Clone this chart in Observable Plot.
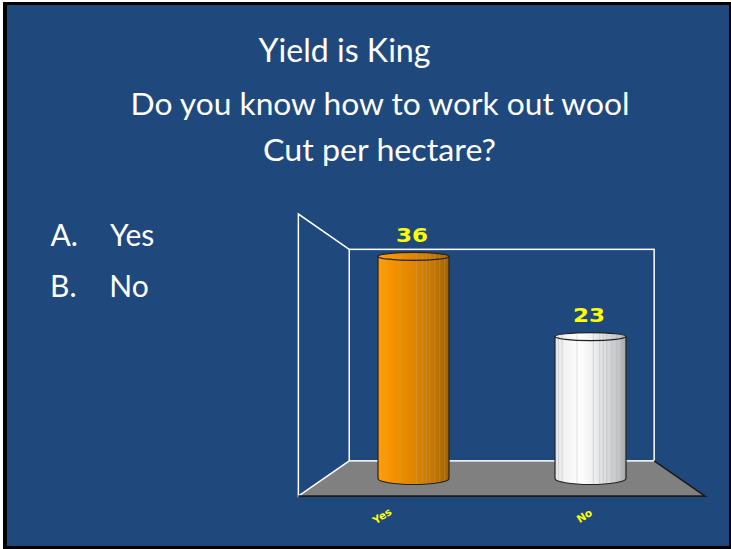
<!DOCTYPE html>
<html>
<head>
<meta charset="utf-8">
<script src="https://cdn.jsdelivr.net/npm/d3@7"></script>
<script src="https://cdn.jsdelivr.net/npm/@observablehq/plot@0.6"></script>
<style>
  html, body { margin: 0; padding: 0; background: #ffffff; width: 731px; height: 549px; overflow: hidden; }
  #slide { position: absolute; left: 3px; top: 2px; width: 722px; height: 541px; border: 3px solid #000; border-left-width: 4px; background: #1F497D; }
  #chart { position: absolute; left: 290px; top: 200px; }
  #texts { position: absolute; left: 0; top: 0; }
</style>
</head>
<body>
<div id="slide"></div>
<div id="texts"></div>
<div id="chart"></div>
<script>
// ---- data ----
const categories = ["Yes", "No"];
const counts = [36, 23];
const yDomain = [0, 40];
const titleLines = ["Yield is King", "Do you know how to work out wool", "Cut per hectare?"];
const optionLetters = ["A.", "B."];
const optionLabels = ["Yes", "No"];

const rows = categories.map((c, i) => ({answer: c, count: counts[i]}));

// ---- slide text ----
const tsvg = d3.select("#texts").append("svg").attr("width", 731).attr("height", 549)
  .style("font-family", "Lato, 'Open Sans', sans-serif").attr("fill", "#ffffff");
const titleSpecs = [
  {cx: 344.5, y: 62.3, size: 33.5, len: 172},
  {cx: 380, y: 115, size: 30.3, len: 499},
  {cx: 379.5, y: 161, size: 30.3, len: 233}
];
titleLines.forEach((t, i) => {
  const s = titleSpecs[i];
  tsvg.append("text").attr("x", s.cx).attr("y", s.y).attr("text-anchor", "middle")
    .attr("font-size", s.size).attr("textLength", s.len).attr("lengthAdjust", "spacingAndGlyphs").text(t);
});
const optY = [245.7, 296.7];
optionLetters.forEach((t, i) => {
  tsvg.append("text").attr("x", i === 0 ? 50.5 : 50).attr("y", optY[i]).attr("font-size", 30).text(t);
  tsvg.append("text").attr("x", i === 0 ? 110 : 109.3).attr("y", optY[i]).attr("font-size", 30).text(optionLabels[i]);
});

// ---- chart ----
const W = 430, H = 340;
const backS = 0.857, frontS = 1.143;
function geom(dimensions) {
  const {width, height, marginLeft, marginRight, marginTop, marginBottom} = dimensions;
  const x0 = marginLeft, x1 = width - marginRight, y0 = marginTop, y1 = height - marginBottom;
  const cx = (x0 + x1) / 2, cy = (y0 + y1) / 2;
  const p = (x, y, s) => [cx + (x - cx) * s, cy + (y - cy) * s];
  return {x0, x1, y0, y1, cx, cy, p};
}

const frameMark = (index, scales, values, dimensions) => {
  const {x0, x1, y0, y1, p} = geom(dimensions);
  const g = d3.create("svg:g");
  const bTL = p(x0, y0, backS), bTR = p(x1, y0, backS), bBL = p(x0, y1, backS), bBR = p(x1, y1, backS);
  const fTL = p(x0, y0, frontS), fBL = p(x0, y1, frontS), fBR = p(x1, y1, frontS);
  g.append("path").attr("d", `M${bBL}L${bBR}L${fBR}L${fBL}Z`).attr("fill", "#808080");
  g.append("rect").attr("x", bTL[0]).attr("y", bTL[1]).attr("width", bTR[0] - bTL[0]).attr("height", bBL[1] - bTL[1])
    .attr("fill", "none").attr("stroke", "#ffffff").attr("stroke-width", 1.5);
  g.append("path").attr("d", `M${bTL}L${fTL}L${fBL}L${bBL}`).attr("fill", "none")
    .attr("stroke", "#ffffff").attr("stroke-width", 1.5);
  g.append("path").attr("d", `M${fBL}L${fBR}L${bBR}`).attr("fill", "none")
    .attr("stroke", "#1a1a1a").attr("stroke-width", 1.6);
  return g.node();
};

const gradientOf = {Yes: "url(#gradOrange)", No: "url(#gradWhite)"};
const stripeColor = {Yes: "rgba(200,170,130,0.45)", No: "rgba(160,168,180,0.45)"};
const stripes = [0.05, 0.1, 0.31, 0.54, 0.63, 0.68, 0.73, 0.8, 0.87, 0.94];

const bars = Plot.barY(rows, {
  x: "answer", y: "count",
  render(index, scales, values, dimensions) {
    const g = d3.create("svg:g");
    const bw = scales.x.bandwidth ? scales.x.bandwidth() : 71;
    const rTop = 4, rBot = 6;
    for (const i of index) {
      const x = values.x[i];
      const yt = Math.min(values.y1[i], values.y2[i]);
      const yb = Math.max(values.y1[i], values.y2[i]);
      const rx = bw / 2, cxb = x + rx;
      const cat = rows[i].answer;
      const fill = gradientOf[cat];
      g.append("path")
        .attr("d", `M${x},${yt}L${x},${yb}A${rx},${rBot} 0 0 0 ${x + bw},${yb}L${x + bw},${yt}Z`)
        .attr("fill", fill);
      g.append("ellipse").attr("cx", cxb).attr("cy", yt).attr("rx", rx).attr("ry", rTop)
        .attr("fill", fill);
      for (const f of stripes) {
        const sx = x + bw * f;
        const k = Math.sqrt(Math.max(0, 1 - ((sx - cxb) / rx) ** 2));
        g.append("line").attr("x1", sx).attr("x2", sx).attr("y1", yt - rTop * k + 0.5).attr("y2", yb + rBot * k - 0.5)
          .attr("stroke", stripeColor[cat]).attr("stroke-width", 0.8);
      }
      g.append("path")
        .attr("d", `M${x},${yt}L${x},${yb}A${rx},${rBot} 0 0 0 ${x + bw},${yb}L${x + bw},${yt}`)
        .attr("fill", "none").attr("stroke", "#222").attr("stroke-width", 1.2);
      g.append("ellipse").attr("cx", cxb).attr("cy", yt).attr("rx", rx).attr("ry", rTop)
        .attr("fill", "none").attr("stroke", "#222").attr("stroke-width", 1.2);
    }
    return g.node();
  }
});

const valueLabels = Plot.text(rows, {
  x: "answer", y: "count", text: d => String(d.count), dy: -21, dx: -2,
  fill: "#FFFF00", fontWeight: "bold", fontSize: 19, fontFamily: "'DejaVu Sans', Verdana, sans-serif",
  className: "vlabel"
});

const catLabels = Plot.text(rows, {
  x: "answer", y: d => 0, text: "answer", rotate: -33, dx: -14, dy: 19.5,
  fill: "#FFFF00", fontWeight: "bold", fontSize: 10.5, fontFamily: "'DejaVu Sans', Verdana, sans-serif",
  render(index, scales, values, dimensions, context, next) {
    const {p} = geom(dimensions);
    const X = Array.from(values.x), Y = Array.from(values.y);
    const nx = X.map((x, k) => p(x, Y[k], frontS)[0]);
    const ny = X.map((x, k) => p(x, Y[k], frontS)[1]);
    return next(index, scales, {...values, x: nx, y: ny}, dimensions, context);
  }
});

const chart = Plot.plot({
  width: W, height: H,
  marginLeft: 33.8, marginRight: W - 389.6, marginTop: 31.7, marginBottom: 61.5,
  x: {domain: categories, paddingInner: 0.6, paddingOuter: 0.3, axis: null},
  y: {domain: yDomain, axis: null},
  style: {background: "transparent", overflow: "visible"},
  marks: [frameMark, bars, valueLabels, catLabels]
});

const defs = d3.select(chart).insert("defs", ":first-child");
const og = defs.append("linearGradient").attr("id", "gradOrange").attr("x1", 0).attr("x2", 1).attr("y1", 0).attr("y2", 0);
[[0, "#FF9C05"], [0.15, "#F89500"], [0.35, "#EA8C00"], [0.55, "#DB8300"], [0.75, "#C87800"], [0.9, "#B26B00"], [1, "#A36200"]]
  .forEach(([o, c]) => og.append("stop").attr("offset", o).attr("stop-color", c));
const wg = defs.append("linearGradient").attr("id", "gradWhite").attr("x1", 0).attr("x2", 1).attr("y1", 0).attr("y2", 0);
[[0, "#E6E6E6"], [0.15, "#F3F3F3"], [0.35, "#FFFFFF"], [0.55, "#EEEEEE"], [0.75, "#D8D8D8"], [0.9, "#C4C4C4"], [1, "#A5A5A5"]]
  .forEach(([o, c]) => wg.append("stop").attr("offset", o).attr("stop-color", c));

d3.select(chart).selectAll(".vlabel text").attr("textLength", 32).attr("lengthAdjust", "spacingAndGlyphs");

document.getElementById("chart").appendChild(chart);
</script>
</body>
</html>
